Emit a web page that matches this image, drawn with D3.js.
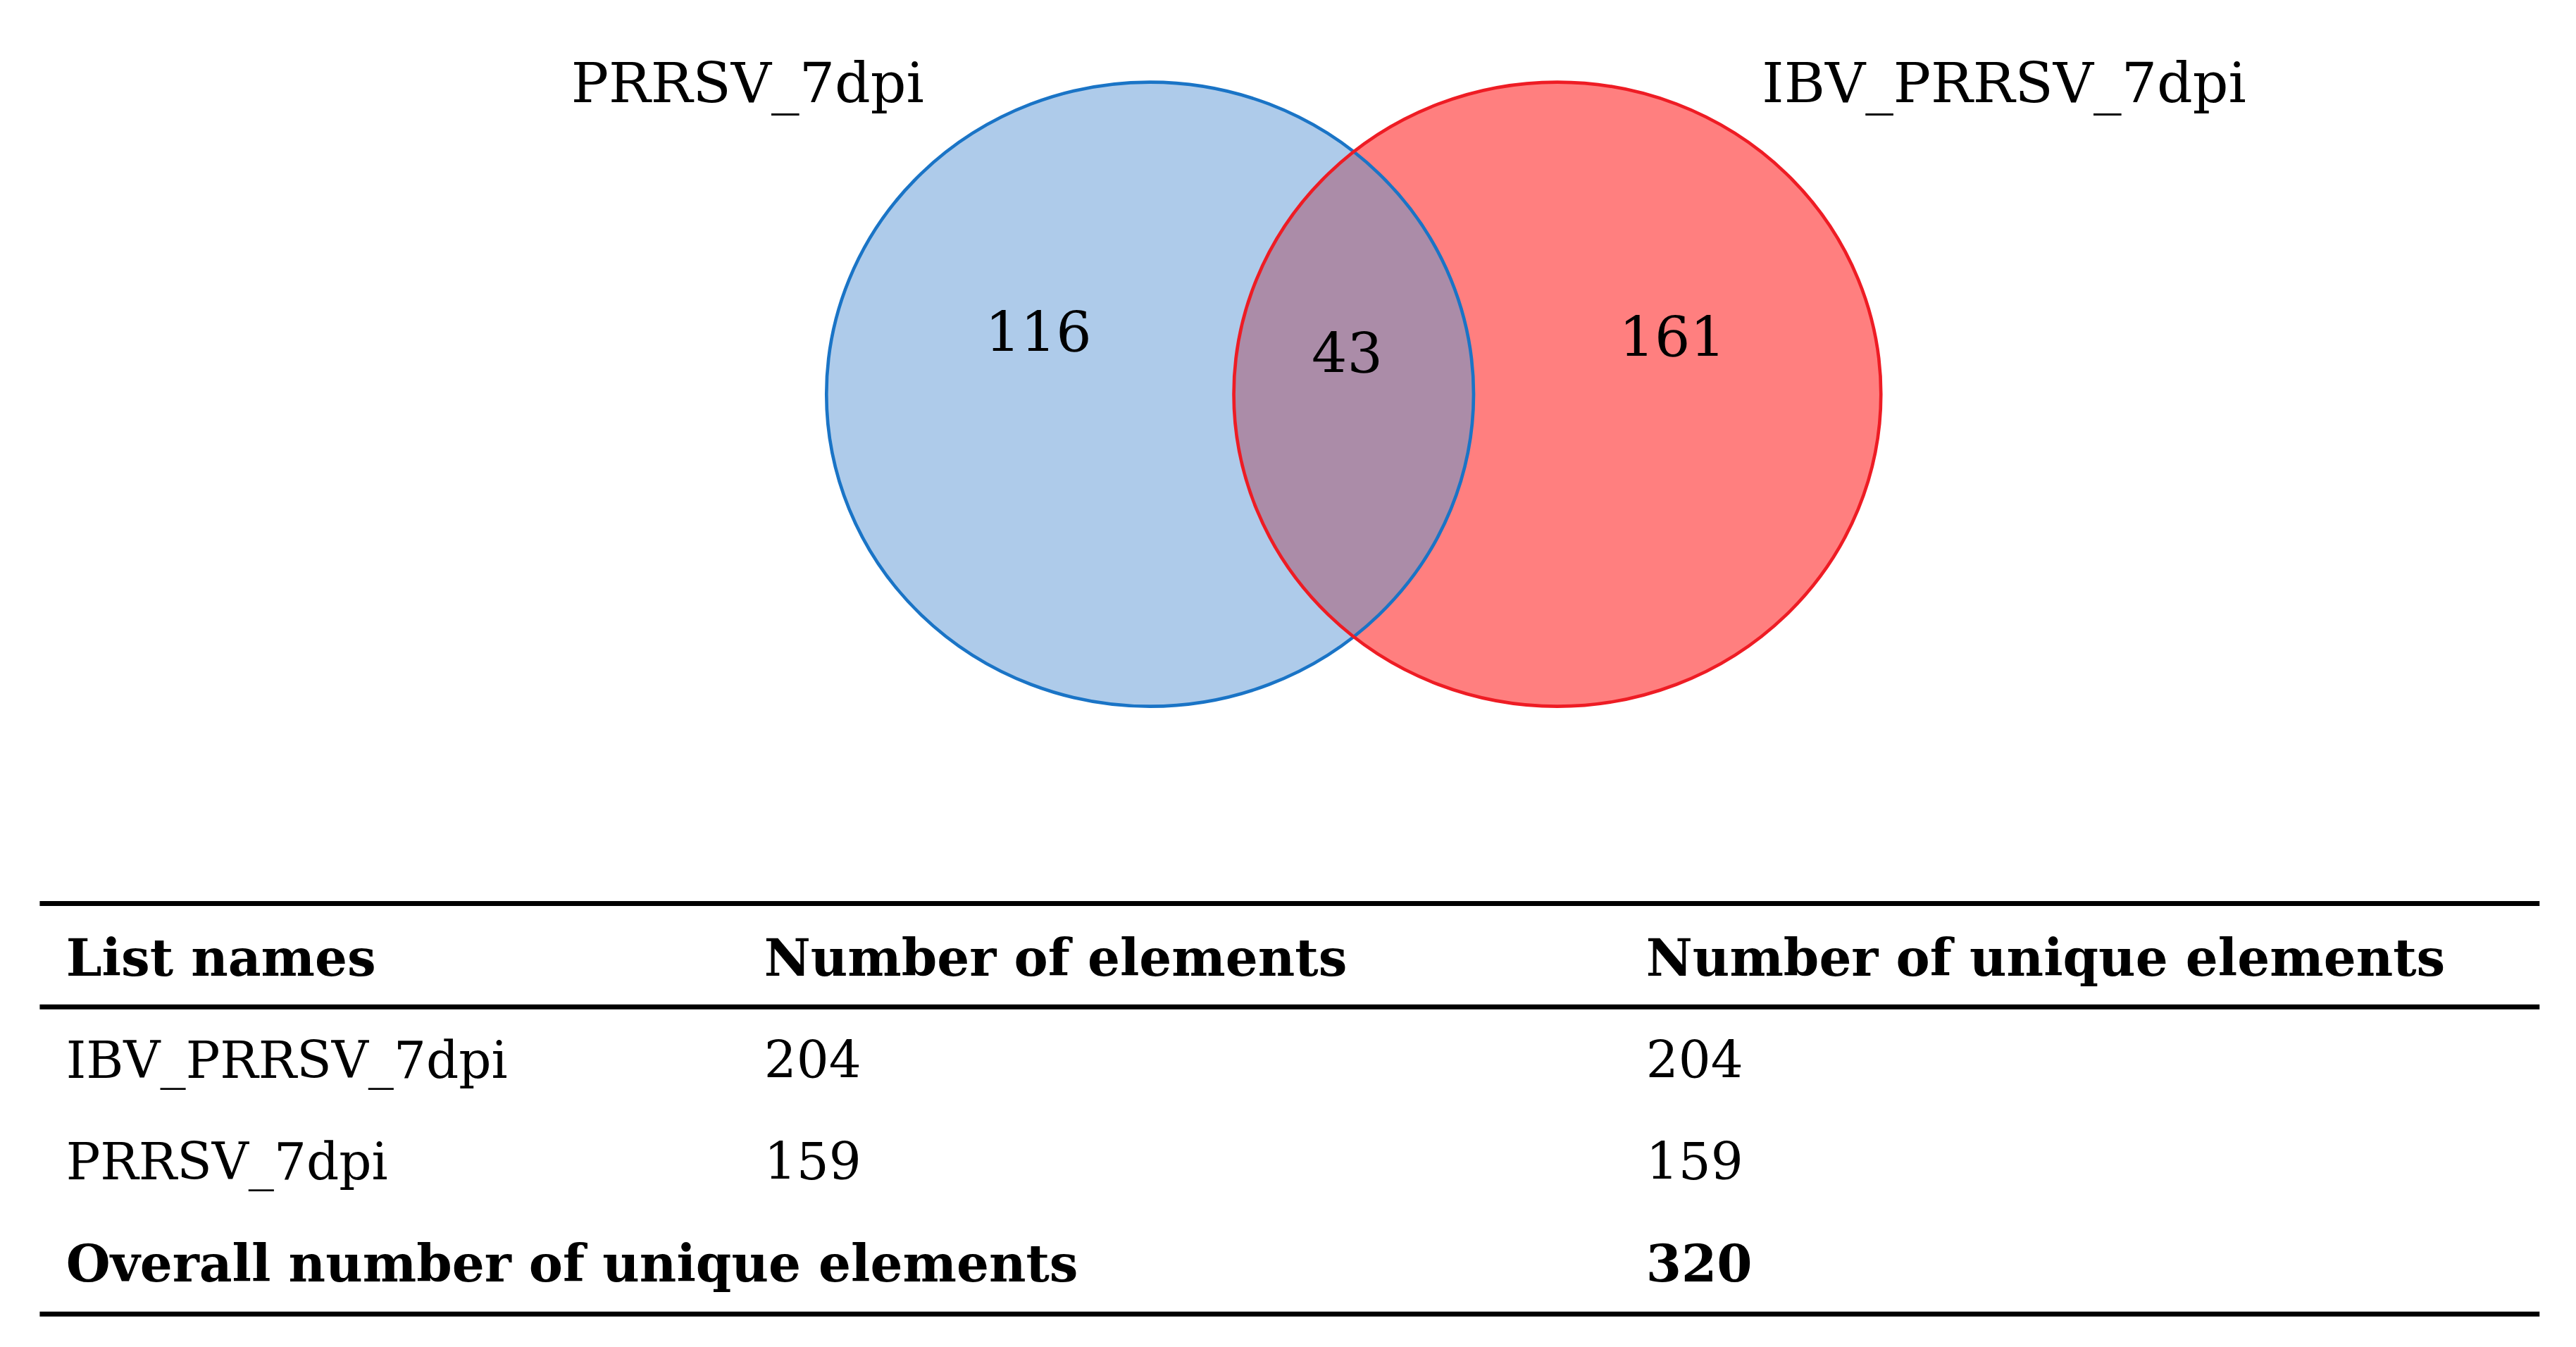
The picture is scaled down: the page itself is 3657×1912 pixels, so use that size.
<!DOCTYPE html>
<html>
<head>
<meta charset="utf-8">
<script src="https://cdn.jsdelivr.net/npm/d3@7"></script>
<style>
  body { margin: 0; background: #fff; }
  text { font-family: "DejaVu Serif", serif; fill: #000; }
</style>
</head>
<body>
<div id="chart"></div>
<script>
// set names and region counts
var setNames = ["PRRSV_7dpi", "IBV_PRRSV_7dpi"];
var onlyCounts = [116, 161];
var sharedCount = 43;
var setColors = ["#aecbea", "#ff7f7f"];
var strokeColors = ["#1a74c6", "#ee1c24"];
var overlapColor = "#ab8ca8";

// table
var tableHeader = ["List names", "Number of elements", "Number of unique elements"];
var tableRows = [
    ["IBV_PRRSV_7dpi", "204", "204"],
    ["PRRSV_7dpi", "159", "159"]
];
var totalRow = ["Overall number of unique elements", "", "320"];

var W = 1568, H = 820;
var svg = d3.select("#chart").append("svg")
    .attr("width", 3657).attr("height", 1912)
    .attr("viewBox", `0 0 ${W} ${H}`);

// circle placement scale (set index -> centre x)
var cx = d3.scaleLinear().domain([0, 1]).range([700, 948]);
var cy = 240, rx = 197, ry = 190;

var defs = svg.append("defs");
defs.append("clipPath").attr("id", "clipA")
  .append("ellipse").attr("cx", cx(0)).attr("cy", cy).attr("rx", rx).attr("ry", ry);

svg.selectAll(".set").data(setNames).enter().append("ellipse")
    .attr("class", "set")
    .attr("cx", (d, i) => cx(i)).attr("cy", cy)
    .attr("rx", rx).attr("ry", ry)
    .style("fill", (d, i) => setColors[i]);

svg.append("ellipse")
    .attr("clip-path", "url(#clipA)")
    .attr("cx", cx(1)).attr("cy", cy).attr("rx", rx).attr("ry", ry)
    .style("fill", overlapColor);

svg.selectAll(".outline").data(setNames).enter().append("ellipse")
    .attr("cx", (d, i) => cx(i)).attr("cy", cy)
    .attr("rx", rx).attr("ry", ry)
    .style("fill", "none")
    .style("stroke", (d, i) => strokeColors[i])
    .style("stroke-width", 2);

var labelX = [455, 1220];
svg.selectAll(".setLabel").data(setNames).enter().append("text")
    .attr("x", (d, i) => labelX[i]).attr("y", 62)
    .attr("text-anchor", "middle").attr("font-size", 34)
    .text(d => d);

var countX = [632, 1018], countY = [202, 205];
svg.selectAll(".count").data(onlyCounts).enter().append("text")
    .attr("x", (d, i) => countX[i]).attr("y", (d, i) => countY[i] + 12)
    .attr("text-anchor", "middle").attr("font-size", 34)
    .text(d => d);
svg.append("text").attr("x", 820).attr("y", 227)
    .attr("text-anchor", "middle").attr("font-size", 34)
    .text(sharedCount);

// table
var colX = [40, 465, 1002];
var rowY = d3.scaleLinear().domain([0, 1]).range([594, 656]);
var table = svg.append("g");

function row(vals, i, bold) {
    table.selectAll(null).data(vals).enter().append("text")
        .attr("x", (d, j) => colX[j]).attr("y", rowY(i))
        .attr("font-size", 31)
        .attr("font-weight", bold ? "bold" : "normal")
        .text(d => d);
}
row(tableHeader, 0, true);
tableRows.forEach((r, i) => row(r, i + 1, false));
row(totalRow, tableRows.length + 1, true);

[[550, 3], [613, 3], [800, 3]].forEach(l => {
    table.append("line").attr("x1", 24).attr("x2", 1546)
        .attr("y1", l[0]).attr("y2", l[0])
        .style("stroke", "#000").style("stroke-width", l[1]);
});
</script>
</body>
</html>
